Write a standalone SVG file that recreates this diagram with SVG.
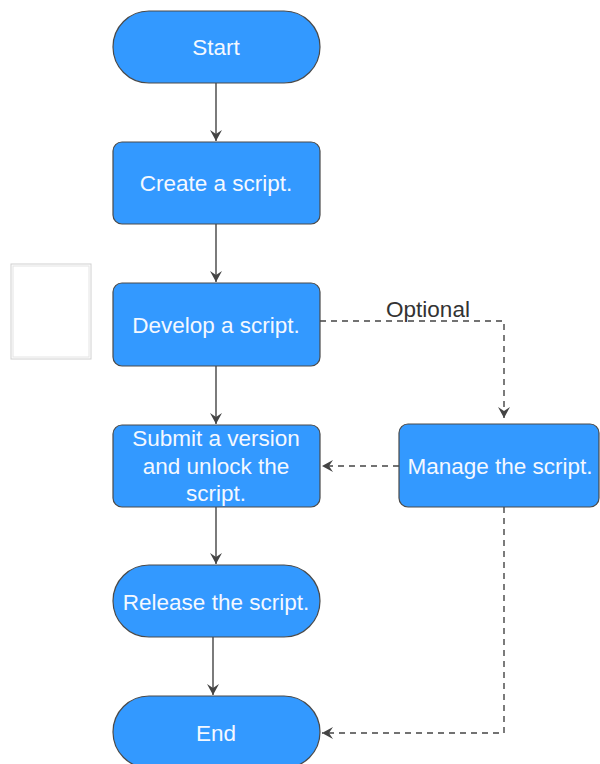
<svg xmlns="http://www.w3.org/2000/svg" width="600" height="764" viewBox="0 0 600 764">
<style>
.n{fill:#3399ff;stroke:#4a4a4a;stroke-width:1.2}
.t{fill:#f4f8ff;font-family:"Liberation Sans",Arial,sans-serif;font-size:22.5px;text-anchor:middle}
.c{fill:none;stroke:#444;stroke-width:1.4}
.d{stroke-dasharray:6 5}
.lbl{fill:#333;font-family:"Liberation Sans",Arial,sans-serif;font-size:22.5px;text-anchor:middle}
</style>
<defs>
<marker id="a" viewBox="0 0 12 14" refX="11" refY="7" markerWidth="12" markerHeight="14" markerUnits="userSpaceOnUse" orient="auto">
<path d="M0,1 L11,7 L0,13 L4,7 Z" fill="#444"/>
</marker>
</defs>
<rect x="11" y="264" width="80" height="95" fill="#fff" stroke="#d0d0d0" stroke-width="1"/>
<rect x="13" y="266" width="76" height="91" fill="none" stroke="#e4e4e4" stroke-width="1"/>
<g id="connectors">
<path class="c" d="M216,83 V141" marker-end="url(#a)"/>
<path class="c" d="M216,224 V282" marker-end="url(#a)"/>
<path class="c" d="M216,366 V424" marker-end="url(#a)"/>
<path class="c" d="M216,507 V564" marker-end="url(#a)"/>
<path class="c" d="M213,637 V695" marker-end="url(#a)"/>
<path class="c d" d="M320,321 H504 V418" marker-end="url(#a)"/>
<path class="c d" d="M399,466 H322" marker-end="url(#a)"/>
<path class="c d" d="M504,507 V733 H322" marker-end="url(#a)"/>
<text class="lbl" x="428" y="317">Optional</text>
</g>
<g id="start"><rect class="n" x="113" y="11" width="207" height="72" rx="36"/><text class="t" x="216" y="55">Start</text></g>
<g id="create"><rect class="n" x="113" y="142" width="207" height="82" rx="9"/><text class="t" x="216" y="191">Create a script.</text></g>
<g id="develop"><rect class="n" x="113" y="283" width="207" height="83" rx="9"/><text class="t" x="216" y="333">Develop a script.</text></g>
<g id="submit"><rect class="n" x="113" y="425" width="207" height="82" rx="9"/><text class="t" x="216" y="446">Submit a version</text><text class="t" x="216" y="474">and unlock the</text><text class="t" x="216" y="501">script.</text></g>
<g id="manage"><rect class="n" x="399" y="424" width="200" height="83" rx="9"/><text class="t" x="500" y="474">Manage the script.</text></g>
<g id="release"><rect class="n" x="113" y="565" width="207" height="72" rx="36"/><text class="t" x="216" y="610">Release the script.</text></g>
<g id="end"><rect class="n" x="113" y="696" width="207" height="72" rx="36"/><text class="t" x="216" y="741">End</text></g>
</svg>
